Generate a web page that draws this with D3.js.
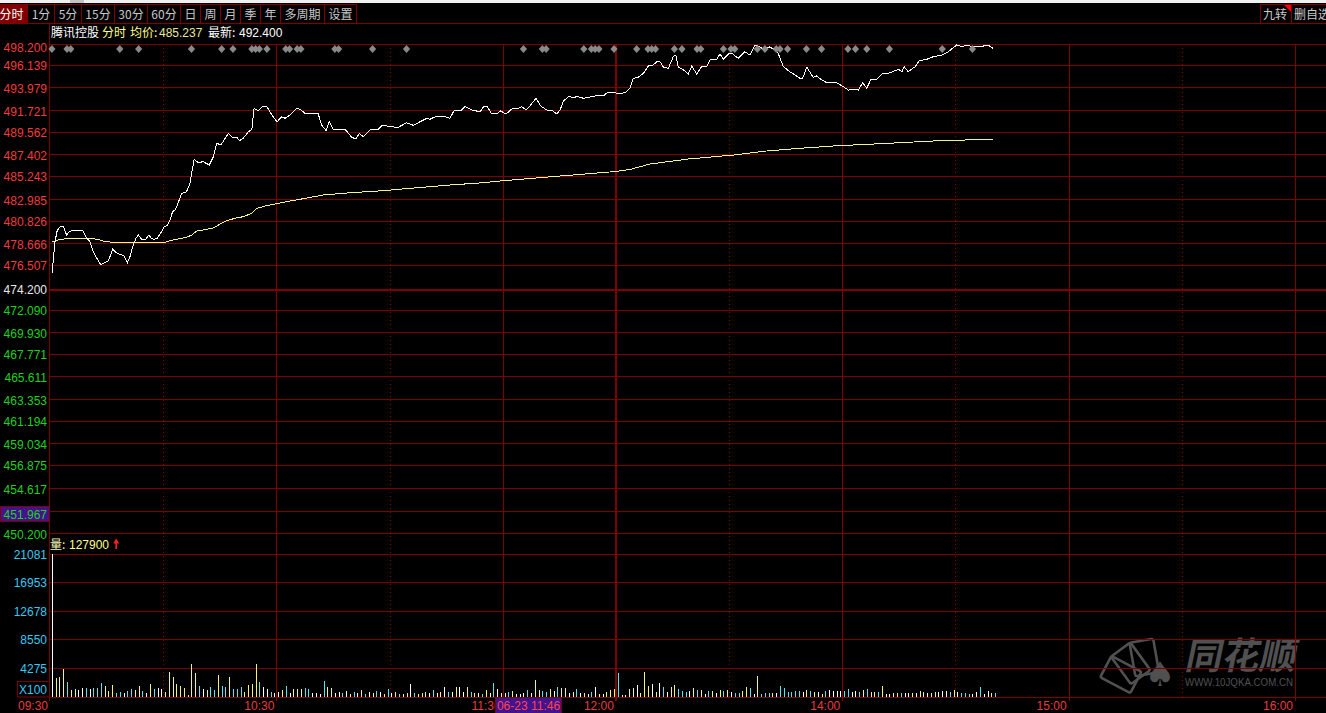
<!DOCTYPE html>
<html><head><meta charset="utf-8">
<script src="https://cdn.jsdelivr.net/npm/d3@7/dist/d3.min.js"></script>
<style>
html,body{margin:0;padding:0;background:#000;overflow:hidden;}
svg{display:block;}
</style></head><body>
<svg id="chart" width="1326" height="713"></svg>
<script>
// ---------------- data ----------------
const toolbarItems = ["分时","1分","5分","15分","30分","60分","日","周","月","季","年","多周期","设置"];
const rightToolbarItems = ["九转","删自选"];
const stockName = "腾讯控股";
const headerMode = "分时";
const headerAvgLabel = "均价:";
const headerAvg = "485.237";
const headerLastLabel = "最新:";
const headerLast = "492.400";
const prevClose = 474.2;
const priceDomain = [450.2, 498.2];
const priceTicks = [498.2,496.139,493.979,491.721,489.562,487.402,485.243,482.985,480.826,478.666,476.507,474.2,
  472.09,469.93,467.771,465.611,463.353,461.194,459.034,456.875,454.617,452.408,450.2];
const volumeTicks = [21081,16953,12678,8550,4275];
const volumeUnit = "X100";
const volumeHeaderLabel = "量:";
const volumeHeaderValue = "127900";
const timeTickMinutes = [0,60,120,150,210,270,330];
const timeTickLabels = ["09:30","10:30","11:30","12:00","14:00","15:00","16:00"];
const gridMinutes = [30,60,90,120,150,180,210,240,270,300,330];
const dottedGridMinutes = [30,90,180,240,300];
const sessionBreakMinute = 150;
const cursorMinute = 136;
const cursorLabel = "06-23 11:46";
const cursorPrice = 451.967;
const markerMinutes = [0,4,5,18,23,37,45,48,53,54,55,57,62,63,65,66,75,76,85,94,125,130,131,141,143,144,145,149,
  155,158,159,160,165,167,171,172,178,180,181,187,189,192,193,195,200,204,211,213,216,222,236,244];

// price trace: [minute offset from 09:30 (session minutes), price]
const priceSeries = [[0.1,475.69],[0.4,477.19],[0.8,478.67],[1.3,479.75],[1.7,480.04],[2.3,480.27],[2.9,480.33],[3.2,480.14],
[3.9,479.45],[4.6,479.78],[5.3,479.87],[8.2,479.87],[9.2,479.16],[10.1,478.79],[10.8,477.98],[11.7,477.32],[13.0,476.51],
[13.6,476.67],[15.0,476.93],[16.1,478.05],[17.3,477.65],[18.5,477.49],[19.1,477.42],[20.0,476.73],[20.7,477.32],[21.4,478.30],
[22.3,479.13],[22.9,479.45],[23.8,479.03],[24.9,479.03],[25.7,479.45],[26.4,479.13],[27.1,479.03],[27.9,479.13],[28.8,479.62],
[29.7,480.21],[30.6,480.43],[31.3,480.92],[32.0,481.74],[32.6,481.91],[33.1,482.23],[34.4,483.54],[35.7,483.70],[36.6,484.53],
[37.7,486.88],[38.8,486.55],[40.1,486.65],[41.7,486.32],[42.8,487.14],[43.7,488.45],[44.8,488.29],[46.8,489.43],[47.9,489.04],
[49.0,489.04],[49.7,488.71],[50.7,488.94],[52.1,489.59],[53.0,489.83],[53.6,491.89],[54.7,491.65],[56.0,492.11],[56.9,492.11],
[58.3,491.23],[59.7,490.57],[60.9,491.06],[61.8,490.91],[63.1,491.23],[64.9,491.89],[65.8,491.79],[67.1,491.40],[68.4,491.33],
[70.6,491.33],[71.5,490.25],[72.7,489.69],[73.5,490.57],[74.6,489.83],[77.7,489.83],[79.5,489.04],[80.6,488.87],[81.5,489.43],
[82.5,489.10],[84.5,489.83],[86.5,489.83],[87.7,490.25],[89.6,490.08],[91.8,490.02],[94.0,490.47],[95.8,490.22],[97.6,490.57],
[99.4,490.91],[100.2,490.81],[102.0,491.13],[104.2,491.06],[105.5,490.91],[106.6,491.65],[108.6,491.72],[109.5,492.05],
[111.3,491.72],[113.5,491.55],[114.4,492.05],[115.4,492.05],[116.6,491.33],[117.9,491.33],[118.8,491.65],[120.4,491.33],
[122.1,491.89],[123.6,491.89],[124.5,492.05],[125.7,491.72],[126.9,492.21],[128.3,492.87],[129.6,492.11],[131.2,491.72],
[132.5,491.72],[133.8,491.33],[134.7,491.72],[135.6,492.60],[136.9,493.03],[138.2,492.97],[139.5,493.03],[140.9,492.87],
[142.2,492.97],[144.0,493.10],[146.2,493.10],[147.2,493.42],[149.3,493.42],[150.1,493.29],[151.9,493.42],[153.2,493.85],
[154.1,494.83],[155.4,494.93],[156.8,495.32],[158.1,496.04],[159.4,496.14],[160.3,496.46],[161.2,496.46],[162.1,495.91],
[163.4,495.81],[164.7,496.95],[165.4,497.12],[166.0,495.97],[167.4,495.65],[168.7,495.26],[169.6,496.04],[170.9,495.26],
[172.2,495.97],[173.6,496.04],[174.6,496.70],[176.2,496.70],[177.1,497.22],[178.0,496.70],[179.3,497.22],[180.2,497.29],
[181.9,496.80],[183.7,497.44],[185.0,497.12],[186.4,498.10],[187.7,497.93],[188.8,497.54],[190.1,497.93],[191.4,497.68],
[192.5,497.29],[193.9,495.97],[195.6,495.48],[197.0,495.16],[198.3,494.83],[199.0,494.83],[200.1,495.91],[201.8,494.93],
[202.7,495.06],[204.1,494.67],[205.4,494.40],[208.0,494.40],[209.8,494.01],[211.1,493.68],[212.4,493.75],[213.8,493.68],
[214.9,494.40],[216.0,493.85],[217.0,494.67],[218.6,494.73],[220.0,495.26],[221.7,495.32],[223.5,495.58],[224.4,495.72],
[225.3,495.48],[225.9,495.97],[227.0,495.48],[228.8,495.97],[229.9,496.56],[231.9,496.70],[233.6,496.95],[235.9,497.12],
[237.6,497.44],[239.8,498.10],[241.2,497.93],[242.5,498.10],[244.2,497.93],[246.0,497.93],[248.2,498.10],[249.4,497.78]];

// average price trace
const avgSeries = [[0.1,478.79],[1.7,478.96],[2.6,479.03],[4.8,479.13],[9.2,479.13],[12.3,479.03],[13.2,478.89],[14.5,478.79],
[17.3,478.70],[21.6,478.70],[30.0,478.73],[31.3,478.89],[33.1,479.03],[35.7,479.23],[37.1,479.45],[38.4,479.84],[40.1,479.94],
[42.8,480.14],[44.6,480.53],[46.3,480.85],[48.5,481.09],[50.7,481.25],[53.0,481.58],[54.3,482.07],[56.9,482.33],[61.3,482.66],
[65.8,482.96],[71.9,483.38],[79.0,483.60],[87.8,483.80],[96.7,484.09],[105.5,484.36],[114.3,484.58],[118.8,484.75],
[134.7,485.24],[149.3,485.68],[153.2,485.88],[158.5,486.42],[168.7,486.91],[180.6,487.30],[189.5,487.70],[198.3,487.96],
[207.1,488.19],[216.0,488.35],[224.8,488.51],[233.6,488.68],[242.5,488.78],[249.4,488.87]];

// per-minute volume (x100 shares), minute 0..250
const volumes = [21081,
2756,2904,4127,2167,1032,1135,1032,1282,1282,1135,
1282,1282,2019,1621,884,1769,634,693,545,929,
1223,1032,1621,840,634,1916,1135,1282,1135,781,
3729,2992,1916,1621,1282,300,4864,3582,1621,1135,
1032,1430,1032,3243,1621,1430,2992,1135,1135,1430,
781,1769,1916,4864,2167,1518,1135,781,634,781,
1032,1621,545,1135,1135,1135,1282,1135,634,634,
442,2358,1430,1282,634,781,590,884,442,737,
590,1032,442,737,590,884,737,442,1179,590,
737,442,442,545,1916,545,442,634,693,545,
1032,545,781,1474,737,781,1474,1474,693,1474,
781,545,545,398,1032,545,2108,1179,545,545,
693,884,398,398,545,1032,545,2506,1032,884,
781,1179,884,1474,1282,1279,545,693,1179,545,
545,442,693,1474,442,442,693,1032,1135,3582,
295,295,1135,1282,1769,545,3685,1621,1916,781,
2064,1474,781,1474,1769,1179,840,781,884,1282,
1032,1032,442,840,840,634,1032,840,1032,781,
590,590,884,1474,1282,486,3095,442,590,590,
590,590,1621,1327,781,781,884,884,781,1032,
840,781,781,486,840,1032,884,884,884,884,
1179,781,884,781,1032,1179,693,781,781,1621,
442,398,545,634,634,545,545,634,634,884,
781,545,634,781,781,884,884,781,1032,781,
634,634,398,398,781,1518,442,884,545,634];
// per-minute direction: u = up, d = down, f = flat
const volumeDir = ["f","uuuduuffdf","ddduuuddfd","duudfudffu","uuuuuuuudf","uddudduddd","uuuudffdff","udfuuuddff",
"fduuffdfud","fudfudfudf","uduufduuuf","dfufdfuffu","dufdufdfuf","dufffdfuud","dufduufudf","ufdfufuuud",
"ufuufuuufu","fdfuudddfu","dufdufuduf","dduudfuddd","ufddddddfu","dufudffffd","dffduduudu","ffuudffufu",
"ufuufffduf","dddffdffud"].join("").split("");

// ---------------- drawing ----------------
const W = 1326, H = 713;
const GRID = "#800000";
const NUM = '"Liberation Sans", Arial, sans-serif';
const CJK = '"Noto Sans CJK SC", "Liberation Sans", sans-serif';
const svg = d3.select("#chart");

const x = d3.scaleLinear().domain([0, 330]).range([50, 1295]);
const y = d3.scaleLinear().domain(priceDomain).range([533, 44]);
const vy = d3.scaleLinear().domain([0, volumeTicks[0]]).range([697, 554]);
const dirColor = d3.scaleOrdinal().domain(["u","d","f"]).range(["#f2f27a","#55e3f2","#ffffff"]);

svg.append("rect").attr("width", W).attr("height", H).attr("fill", "#000");
svg.append("rect").attr("width", W).attr("height", 3).attr("fill", "#f0f0f0");
svg.append("rect").attr("x", 70).attr("width", 14).attr("height", 3).attr("fill", "#c4c4c4");

// watermark (under grid)
const wm = svg.append("g").attr("fill", "none").attr("stroke", "#505050").attr("stroke-width", 2.6);
[-62, -36, -10].forEach(a => {
  wm.append("rect").attr("x", -12).attr("y", -50).attr("width", 24).attr("height", 34).attr("rx", 2)
    .attr("transform", `translate(1150,690) rotate(${a})`);
});
svg.append("text").attr("x", 1160).attr("y", 686).attr("text-anchor", "middle")
  .attr("font-family", '"DejaVu Sans", sans-serif').attr("font-size", 34).attr("fill", "#505050").text("♠");
svg.append("text").attr("transform", "translate(1184,669) skewX(-12)")
  .attr("font-family", CJK).attr("font-weight", "bold").attr("font-size", 37).attr("fill", "#505050").text("同花顺");
svg.append("text").attr("x", 1185).attr("y", 686).attr("font-family", NUM).attr("font-size", 10)
  .attr("textLength", 108).attr("lengthAdjust", "spacingAndGlyphs").attr("fill", "#505050").text("WWW.10JQKA.COM.CN");

// toolbar
const tb = svg.append("g");
let tx = -5;
toolbarItems.forEach((t, i) => {
  const tmp = tb.append("text").attr("font-family", CJK).attr("font-size", 12).text(t);
  const w = tmp.node().getComputedTextLength();
  tmp.remove();
  const bw = w + 8;
  tb.append("rect").attr("x", Math.round(tx) + 0.5).attr("y", 4.5).attr("width", Math.round(bw)).attr("height", 19)
    .attr("fill", i === 0 ? "#800000" : "#000").attr("stroke", GRID);
  tb.append("text").attr("x", Math.round(tx) + Math.round(bw) / 2 + 0.5).attr("y", 18.5).attr("text-anchor", "middle")
    .attr("font-family", CJK).attr("font-size", 12).attr("fill", i === 0 ? "#ffffff" : "#c8c8c8").text(t);
  tx += Math.round(bw);
});
let rx = 1260;
rightToolbarItems.forEach((t) => {
  const tmp = tb.append("text").attr("font-family", CJK).attr("font-size", 12).text(t);
  const w = tmp.node().getComputedTextLength();
  tmp.remove();
  const bw = Math.round(w + 7);
  tb.append("rect").attr("x", rx + 0.5).attr("y", 4.5).attr("width", bw).attr("height", 19)
    .attr("fill", "#000").attr("stroke", GRID);
  tb.append("text").attr("x", rx + 3).attr("y", 18.5).attr("font-family", CJK).attr("font-size", 12)
    .attr("fill", "#c8c8c8").text(t);
  rx += bw;
});
svg.append("path").attr("d", "M1284,5 L1291,5 L1291,12 Z").attr("fill", "#ff0000");
svg.append("line").attr("x1", 0).attr("x2", W).attr("y1", 23.5).attr("y2", 23.5).attr("stroke", GRID);

// horizontal grid (price)
const grid = svg.append("g").attr("shape-rendering", "crispEdges");
priceTicks.forEach(v => {
  const yy = Math.round(y(v));
  const isPrev = v === prevClose;
  grid.append("line").attr("x1", 50).attr("x2", W)
    .attr("y1", isPrev ? yy + 1 : yy + 0.5).attr("y2", isPrev ? yy + 1 : yy + 0.5)
    .attr("stroke", GRID).attr("stroke-width", isPrev ? 2 : 1);
});
// volume grid
volumeTicks.forEach(v => {
  const yy = Math.round(vy(v)) + 0.5;
  grid.append("line").attr("x1", 50).attr("x2", W).attr("y1", yy).attr("y2", yy).attr("stroke", GRID);
});
grid.append("line").attr("x1", 50).attr("x2", W).attr("y1", vy(0) + 0.5).attr("y2", vy(0) + 0.5).attr("stroke", GRID);

// vertical grid
gridMinutes.forEach(m => {
  const dotted = dottedGridMinutes.includes(m);
  const thick = m === sessionBreakMinute;
  const xx = thick ? Math.round(x(m)) : Math.round(x(m)) + 0.5;
  grid.append("line").attr("x1", xx).attr("x2", xx).attr("y1", 44).attr("y2", dotted ? 697 : 701)
    .attr("stroke", GRID).attr("stroke-width", thick ? 2 : 1)
    .attr("stroke-dasharray", dotted ? "1,3" : null);
});
grid.append("line").attr("x1", 49.5).attr("x2", 49.5).attr("y1", 24).attr("y2", 701).attr("stroke", GRID);

// header line
const hdr = svg.append("text").attr("y", 37).attr("font-size", 12);
hdr.append("tspan").attr("x", 51).attr("font-family", CJK).attr("fill", "#ffffff").text(stockName);
hdr.append("tspan").attr("x", 102).attr("font-family", CJK).attr("fill", "#ffff80").text(headerMode);
hdr.append("tspan").attr("x", 130).attr("font-family", CJK).attr("fill", "#ffff80").text(headerAvgLabel);
hdr.append("tspan").attr("x", 159).attr("font-family", NUM).attr("fill", "#e6e69a").text(headerAvg);
hdr.append("tspan").attr("x", 208).attr("font-family", CJK).attr("fill", "#ffffff").text(headerLastLabel);
hdr.append("tspan").attr("x", 239).attr("font-family", NUM).attr("fill", "#ffffff").text(headerLast);

// price axis labels
const fmt = d3.format(".3f");
const cursorY = y(cursorPrice);
priceTicks.forEach(v => {
  const yy = y(v);
  if (Math.abs(yy - cursorY) < 10) return;
  svg.append("text").attr("x", 47).attr("y", Math.max(yy + 5.5, 51.5)).attr("text-anchor", "end")
    .attr("font-family", NUM).attr("font-size", 12)
    .attr("fill", v > prevClose ? "#f03c3c" : (v < prevClose ? "#1ed21e" : "#e8e8e8")).text(fmt(v));
});
// cursor price label
svg.append("rect").attr("x", 0.5).attr("y", Math.round(cursorY) - 8.5).attr("width", 49).attr("height", 15)
  .attr("fill", "#42128f").attr("stroke", GRID);
svg.append("text").attr("x", 47).attr("y", cursorY + 4).attr("text-anchor", "end")
  .attr("font-family", NUM).attr("font-size", 12).attr("fill", cursorPrice < prevClose ? "#1ed21e" : "#f03c3c")
  .text(fmt(cursorPrice));

// volume axis labels
volumeTicks.forEach(v => {
  svg.append("text").attr("x", 47).attr("y", vy(v) + 5).attr("text-anchor", "end")
    .attr("font-family", NUM).attr("font-size", 12).attr("fill", "#38c8f0").text(v);
});
svg.append("rect").attr("x", 17.5).attr("y", 681.5).attr("width", 32).attr("height", 15.5)
  .attr("fill", "#000").attr("stroke", GRID);
svg.append("text").attr("x", 47).attr("y", 694).attr("text-anchor", "end")
  .attr("font-family", NUM).attr("font-size", 12).attr("fill", "#38c8f0").text(volumeUnit);

// volume header
const vh = svg.append("text").attr("y", 548.5).attr("font-size", 12);
vh.append("tspan").attr("x", 50).attr("font-family", CJK).attr("fill", "#f8f8b8").text(volumeHeaderLabel);
vh.append("tspan").attr("x", 69).attr("font-family", NUM).attr("fill", "#ffff8c").text(volumeHeaderValue);
svg.append("path").attr("d", "M116.2,538.5 L119.2,543.5 L117,543.5 L117,549 L115.4,549 L115.4,543.5 L113.2,543.5 Z")
  .attr("fill", "#ff2020");

// time axis labels
timeTickMinutes.forEach((m, i) => {
  svg.append("text").attr("x", x(m) - 2).attr("y", 710).attr("text-anchor", "end")
    .attr("font-family", NUM).attr("font-size", 12).attr("fill", "#e83c3c").text(timeTickLabels[i]);
});

// volume bars
svg.append("g").attr("shape-rendering", "crispEdges").selectAll("rect").data(volumes).join("rect")
  .attr("x", (d, i) => Math.round(x(i + 0.5)))
  .attr("y", d => vy(d))
  .attr("width", 1)
  .attr("height", d => vy(0) - vy(d))
  .attr("fill", (d, i) => dirColor(volumeDir[i]));

// average & price lines
const line = d3.line().x(d => x(d[0] + 0.5)).y(d => y(d[1]));
svg.append("path").attr("d", line(avgSeries)).attr("fill", "none").attr("stroke", "#f4f48a")
  .attr("stroke-width", 1).attr("shape-rendering", "crispEdges");
svg.append("path").attr("d", line(priceSeries)).attr("fill", "none").attr("stroke", "#ffffff")
  .attr("stroke-width", 1).attr("shape-rendering", "crispEdges");

// markers
svg.append("g").selectAll("path").data(markerMinutes).join("path")
  .attr("d", m => { const cx = x(m + 0.5), cy = 49; return `M${cx},${cy - 4}L${cx + 3.6},${cy}L${cx},${cy + 4}L${cx - 3.6},${cy}Z`; })
  .attr("fill", "#868a8a");

// cursor date label
const cx0 = x(cursorMinute + 0.5) - 3;
svg.append("rect").attr("x", Math.round(cx0) - 66.5).attr("y", 697.5).attr("width", 66).attr("height", 16)
  .attr("fill", "#42128f").attr("stroke", GRID);
svg.append("text").attr("x", Math.round(cx0) - 33.5).attr("y", 710).attr("text-anchor", "middle")
  .attr("font-family", NUM).attr("font-size", 12).attr("fill", "#ff4646").text(cursorLabel);
</script>
</body></html>
